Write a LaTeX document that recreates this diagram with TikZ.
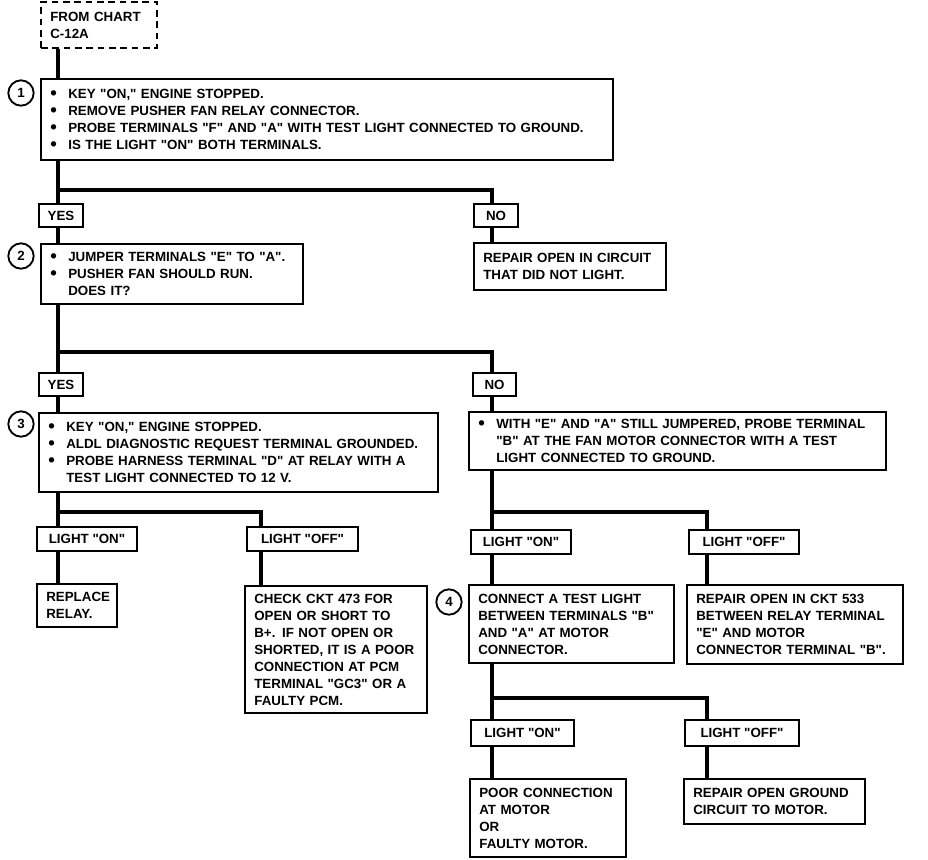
\documentclass[tikz,border=0pt]{standalone}
\usepackage{fontspec}
\setmainfont{Liberation Sans}[Ligatures=TeXOff]
\begin{document}
\begin{tikzpicture}[x=0.75pt,y=-0.75pt,
  every node/.style={font=\bfseries\fontsize{10}{12.75}\selectfont},
  box/.style={draw, line width=1.5pt, anchor=north west, align=left, inner xsep=7pt, inner ysep=2pt},
  dbox/.style={box, dash pattern=on 5pt off 3.5pt},
  lbl/.style={draw, line width=1.5pt, anchor=north west, align=center, inner sep=0pt},
  circ/.style={circle, draw, line width=1.4pt, minimum size=19pt, inner sep=0pt},
  conn/.style={line width=3.6pt, line join=miter}]
\newcommand\bx[7][box]{\node[#1, minimum width={(#5-#3)*0.75pt}, minimum height={(#6-#4)*0.75pt}, text width={(#5-#3)*0.75pt-14pt}] (#2) at (#3,#4) {#7};}
\newcommand\lb[6]{\node[lbl, minimum width={(#5-#3)*0.75pt}, minimum height={(#6-#4)*0.75pt}] (#2) at (#3,#4) {#1};}
\newcommand\bul[1]{\makebox[13.5pt][l]{\raisebox{-0.9pt}{\fontsize{14}{14}\selectfont\textbullet}}#1}
\newcommand\ind{\hspace*{13.5pt}}
\useasboundingbox (0,0) rectangle (928,860);
% coordinates of the vertical trunks
\coordinate (tA) at (58,0);
\coordinate (tB) at (492,0);
\coordinate (tC) at (261,0);
\coordinate (tD) at (707,0);
\coordinate (j1) at (58,190);
\coordinate (j2) at (58,352);
\coordinate (j3) at (58,512);
\coordinate (j4) at (492,512);
\coordinate (j5) at (492,698);
% boxes
\bx[dbox]{fc}{40}{1}{156}{47}{FROM CHART\\C-12A}
\bx{b1}{40}{78}{612}{159}{\bul{KEY "ON," ENGINE STOPPED.}\\\bul{REMOVE PUSHER FAN RELAY CONNECTOR.}\\\bul{PROBE TERMINALS "F" AND "A" WITH TEST LIGHT CONNECTED TO GROUND.}\\\bul{IS THE LIGHT "ON" BOTH TERMINALS.}}
\node[circ] (c1) at (21,93) {1};
\lb{YES}{yes1}{38}{203}{82}{226}
\lb{NO}{no1}{473}{203}{517}{226}
\bx{b2}{40}{243}{302}{303}{\bul{JUMPER TERMINALS "E" TO "A".}\\\bul{PUSHER FAN SHOULD RUN.}\\\ind DOES IT?}
\node[circ] (c2) at (21,256) {2};
\bx{res1}{473}{242}{665}{289}{REPAIR OPEN IN CIRCUIT\\THAT DID NOT LIGHT.}
\lb{YES}{yes2}{38}{372}{82}{395}
\lb{NO}{no2}{472}{372}{515}{395}
\bx{b3}{38}{412}{437}{491}{\bul{KEY "ON," ENGINE STOPPED.}\\\bul{ALDL DIAGNOSTIC REQUEST TERMINAL GROUNDED.}\\\bul{PROBE HARNESS TERMINAL "D" AT RELAY WITH A}\\\ind TEST LIGHT CONNECTED TO 12 V.}
\node[circ] (c3) at (21,424) {3};
\bx{b4}{468}{411}{885}{469}{\bul{WITH "E" AND "A" STILL JUMPERED, PROBE TERMINAL}\\\ind "B" AT THE FAN MOTOR CONNECTOR WITH A TEST\\\ind LIGHT CONNECTED TO GROUND.}
\lb{LIGHT "ON"}{on1}{36}{526}{136}{550}
\lb{LIGHT "OFF"}{off1}{246}{526}{357}{550}
\bx{r1}{36}{583}{116}{626}{REPLACE\\RELAY.}
\bx{r2}{244}{585}{426}{712}{CHECK CKT 473 FOR\\OPEN OR SHORT TO\\B+. IF NOT OPEN OR\\SHORTED, IT IS A POOR\\CONNECTION AT PCM\\TERMINAL "GC3" OR A\\FAULTY PCM.}
\lb{LIGHT "ON"}{on2}{470}{529}{570}{553}
\lb{LIGHT "OFF"}{off2}{688}{529}{798}{553}
\bx{b5}{468}{584}{673}{662}{CONNECT A TEST LIGHT\\BETWEEN TERMINALS "B"\\AND "A" AT MOTOR\\CONNECTOR.}
\node[circ] (c4) at (449,602) {4};
\bx{r3}{686}{584}{902}{663}{REPAIR OPEN IN CKT 533\\BETWEEN RELAY TERMINAL\\"E" AND MOTOR\\CONNECTOR TERMINAL "B".}
\lb{LIGHT "ON"}{on3}{470}{719}{573}{745}
\lb{LIGHT "OFF"}{off3}{684}{719}{798}{745}
\bx{r4}{469}{778}{625}{856}{POOR CONNECTION\\AT MOTOR\\OR\\FAULTY MOTOR.}
\bx{r5}{683}{778}{864}{823}{REPAIR OPEN GROUND\\CIRCUIT TO MOTOR.}
% connectors
\draw[conn] (fc.south -| tA) -- (b1.north -| tA);
\draw[conn] (b1.south -| tA) -- (yes1.north -| tA);
\draw[conn] (j1) -| (tB |- no1.north);
\draw[conn] (yes1.south -| tA) -- (b2.north -| tA);
\draw[conn] (no1.south -| tB) -- (res1.north -| tB);
\draw[conn] (b2.south -| tA) -- (yes2.north -| tA);
\draw[conn] (j2) -| (tB |- no2.north);
\draw[conn] (yes2.south -| tA) -- (b3.north -| tA);
\draw[conn] (no2.south -| tB) -- (b4.north -| tB);
\draw[conn] (b3.south -| tA) -- (on1.north -| tA);
\draw[conn] (j3) -| (tC |- off1.north);
\draw[conn] (on1.south -| tA) -- (r1.north -| tA);
\draw[conn] (off1.south -| tC) -- (r2.north -| tC);
\draw[conn] (b4.south -| tB) -- (on2.north -| tB);
\draw[conn] (j4) -| (tD |- off2.north);
\draw[conn] (on2.south -| tB) -- (b5.north -| tB);
\draw[conn] (off2.south -| tD) -- (r3.north -| tD);
\draw[conn] (b5.south -| tB) -- (on3.north -| tB);
\draw[conn] (j5) -| (tD |- off3.north);
\draw[conn] (on3.south -| tB) -- (r4.north -| tB);
\draw[conn] (off3.south -| tD) -- (r5.north -| tD);
\end{tikzpicture}
\end{document}
